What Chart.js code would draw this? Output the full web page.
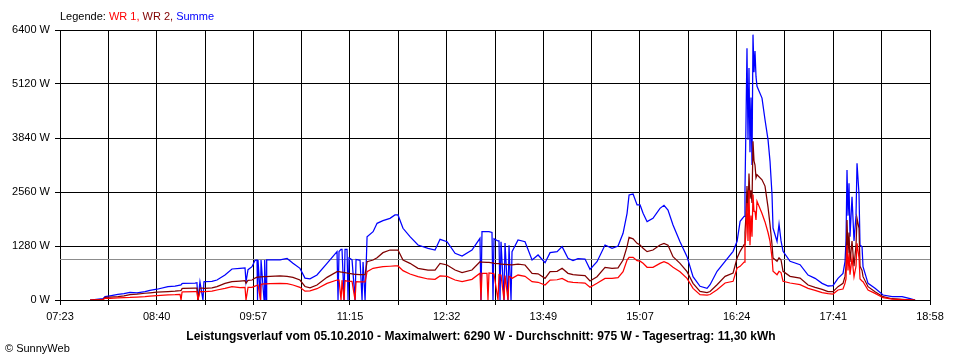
<!DOCTYPE html>
<html lang="de">

<head>
    <meta charset="UTF-8" />
    <title>Leistungsverlauf 05.10.2010</title>
    <script src="https://cdn.jsdelivr.net/npm/chart.js"></script>
    <style>
        * {
            margin: 0;
            padding: 0;
            box-sizing: border-box;
        }

        body {
            background: #ffffff;
            width: 960px;
            height: 360px;
            overflow: hidden;
        }

        canvas {
            display: block;
        }
    </style>
</head>

<body>
    <canvas id="powerChart" width="960" height="360"></canvas>

    <script>
        // Uhrzeit in Minuten seit Mitternacht
        const times = [
            467.0, 477.4, 479.0, 482.9, 489.3, 494.1, 498.9, 504.5, 510.9, 514.9,
            520.5, 529.3, 534.9, 538.9, 539.7, 540.5, 541.3, 550.9, 552.4, 553.2,
            554.8, 557.2, 558.0, 558.8, 564.4, 568.4, 574.8, 580.4, 586.8, 590.8,
            591.6, 593.2, 596.4, 598.8, 600.4, 600.8, 601.2, 603.2, 603.6, 606.0,
            606.5, 607.6, 608.1, 610.8, 618.8, 624.4, 629.1, 634.7, 638.7, 642.7,
            648.3, 656.3, 664.3, 665.1, 665.9, 667.5, 668.3, 669.9, 670.7, 672.3,
            673.1, 673.9, 676.3, 678.7, 679.5, 682.7, 684.3, 685.1, 686.7, 688.3,
            693.1, 696.3, 701.0, 706.6, 710.6, 713.0, 717.0, 722.6, 729.0, 737.0,
            742.6, 746.6, 752.2, 758.6, 764.2, 772.1, 778.5, 779.3, 780.1, 784.1,
            784.9, 785.7, 788.1, 788.9, 789.7, 792.9, 793.7, 794.5, 795.3, 797.7,
            798.5, 800.9, 801.7, 803.3, 804.1, 808.9, 814.5, 820.1, 824.9, 830.5,
            834.5, 840.1, 844.1, 848.8, 852.8, 856.8, 862.4, 866.4, 872.0, 878.4,
            884.0, 888.8, 892.8, 896.0, 897.6, 900.8, 904.0, 906.4, 908.8, 912.0,
            916.7, 922.3, 925.5, 928.7, 932.7, 938.3, 943.9, 948.7, 954.3, 959.9,
            962.3, 967.9, 974.3, 980.7, 983.9, 986.3, 989.5, 990.2, 991.0, 991.8,
            992.6, 993.4, 994.2, 995.0, 995.8, 996.6, 997.4, 998.2, 999.0, 999.8,
            1003.8, 1006.2, 1008.6, 1010.2, 1011.8, 1012.6, 1015.8, 1017.4, 1019.0, 1020.6,
            1026.2, 1034.2, 1040.6, 1046.2, 1051.8, 1056.6, 1060.5, 1064.5, 1068.5, 1070.1,
            1070.9, 1071.7, 1072.5, 1073.3, 1074.1, 1075.7, 1077.3, 1078.9, 1079.7, 1081.3,
            1082.1, 1083.7, 1084.5, 1088.5, 1094.1, 1100.5, 1107.7, 1115.7, 1122.1, 1126.1
        ];

        const summe = [
            0, 30, 80, 100, 135, 150, 180, 170, 200, 230,
            255, 315, 330, 355, 360, 390, 395, 400, 410, 0,
            430, 0, 430, 435, 440, 474, 592, 735, 750, 760,
            430, 720, 790, 940, 950, 0, 950, 0, 950, 0,
            950, 0, 950, 950, 950, 985, 870, 750, 520, 500,
            592, 870, 1145, 0, 1150, 1200, 1200, 0, 1200, 1200,
            0, 1000, 950, 0, 960, 940, 0, 900, 0, 1500,
            1619, 1817, 1880, 1935, 2015, 2015, 1700, 1501, 1304, 1225,
            1185, 1438, 1382, 1106, 1043, 1185, 1462, 0, 1619, 1619,
            1619, 1619, 1600, 0, 1450, 1400, 1400, 0, 1382, 0,
            1350, 0, 1300, 0, 1145, 1422, 1382, 948, 1067, 885,
            1122, 1146, 1264, 987, 932, 979, 970, 727, 908, 1304,
            1225, 1280, 1580, 2055, 2489, 2512, 2252, 2252, 2055, 1857,
            1935, 2173, 2244, 2133, 1778, 1382, 1027, 553, 324, 276,
            363, 680, 917, 1154, 1391, 1865, 1983, 2600, 4200, 5970,
            3800, 5500, 3500, 4800, 3200, 6290, 5400, 5900, 5300, 5064,
            4787, 4273, 3800, 3287, 2496, 1706, 1391, 1800, 1400, 1154,
            917, 837, 592, 513, 395, 332, 340, 513, 632, 908,
            1400, 3081, 2000, 2765, 1500, 2449, 1400, 2000, 3240, 2500,
            1300, 1264, 790, 395, 276, 118, 79, 79, 32, 0
        ];

        const wr2 = [
            0, 15, 60, 70, 80, 100, 130, 140, 160, 170,
            185, 200, 210, 220, 225, 270, 275, 280, 280, 0,
            280, 280, 276, 276, 290, 316, 395, 435, 450, 460,
            400, 465, 474, 520, 540, 540, 545, 550, 550, 555,
            555, 555, 555, 560, 570, 560, 537, 474, 320, 290,
            356, 537, 671, 671, 671, 660, 660, 650, 650, 640,
            630, 630, 620, 610, 610, 600, 600, 600, 600, 908,
            948, 1000, 1122, 1185, 1185, 1185, 948, 869, 751, 711,
            711, 869, 830, 711, 648, 711, 908, 900, 900, 890,
            890, 890, 880, 880, 870, 860, 860, 850, 850, 845,
            845, 840, 840, 835, 830, 850, 830, 632, 620, 513,
            671, 680, 751, 632, 600, 592, 580, 450, 553, 775,
            751, 760, 948, 1264, 1486, 1450, 1343, 1304, 1225, 1146,
            1185, 1304, 1343, 1300, 1027, 869, 671, 395, 206, 174,
            200, 363, 561, 640, 995, 1154, 1311, 1600, 2000, 2700,
            2100, 3000, 2400, 2600, 2300, 3760, 3300, 3200, 2900, 2970,
            2850, 2700, 2200, 1785, 1311, 995, 917, 1000, 950, 680,
            561, 521, 356, 300, 253, 197, 197, 316, 395, 560,
            800, 1896, 1100, 1600, 900, 1400, 800, 1300, 1935, 1700,
            800, 700, 553, 316, 197, 79, 30, 16, 5, 0
        ];

        const wr1 = [
            0, 10, 40, 40, 50, 55, 60, 70, 80, 90,
            105, 120, 125, 135, 0, 190, 195, 200, 200, 0,
            200, 200, 197, 197, 210, 237, 276, 316, 295, 300,
            0, 300, 300, 330, 350, 350, 355, 0, 370, 380,
            380, 385, 385, 390, 395, 390, 356, 300, 210, 215,
            268, 395, 474, 474, 474, 0, 470, 0, 460, 450,
            450, 445, 440, 0, 435, 430, 430, 430, 430, 671,
            751, 770, 790, 800, 806, 806, 695, 616, 553, 498,
            490, 569, 560, 474, 435, 490, 632, 0, 630, 630,
            0, 640, 630, 630, 620, 0, 600, 590, 590, 0,
            580, 0, 560, 540, 513, 592, 560, 435, 420, 356,
            474, 480, 513, 435, 420, 410, 400, 300, 395, 513,
            513, 530, 671, 948, 1012, 1012, 932, 920, 869, 775,
            775, 869, 908, 869, 775, 671, 513, 276, 126, 118,
            130, 245, 403, 443, 758, 798, 900, 1300, 1600, 2300,
            1400, 2600, 1300, 2000, 1500, 2500, 2100, 2100, 1900, 2339,
            2050, 1850, 1600, 1391, 1000, 680, 600, 680, 650, 443,
            403, 363, 276, 230, 174, 150, 140, 237, 260, 395,
            500, 1300, 700, 1100, 600, 1000, 550, 800, 1343, 1000,
            500, 450, 435, 237, 158, 55, 20, 10, 3, 0
        ];

        const yTicks = [0, 1280, 2560, 3840, 5120, 6400];
        const xLabels = ["07:23", "08:40", "09:57", "11:15", "12:32", "13:49", "15:07", "16:24", "17:41", "18:58"];
        const xStart = 443;   // 07:23
        const xEnd = 1138;    // 18:58
        const durchschnitt = 975;

        const legendParts = [
            { text: "Legende: ", color: "#000000" },
            { text: "WR 1, ", color: "#ff0000" },
            { text: "WR 2, ", color: "#800000" },
            { text: "Summe", color: "#0000ff" }
        ];
        const titleText = "Leistungsverlauf vom 05.10.2010 - Maximalwert: 6290 W - Durchschnitt: 975 W - Tagesertrag: 11,30 kWh";
        const copyText = "\u00a9 SunnyWeb";

        const FONT = '"Liberation Sans", Arial, sans-serif';

        const textPlugin = {
            id: 'textPlugin',
            beforeDatasetsDraw(chart) {
                const { ctx, chartArea, scales } = chart;
                const y = Math.round(scales.y.getPixelForValue(durchschnitt)) + 0.5;
                ctx.save();
                ctx.strokeStyle = "#8c8c8c";
                ctx.lineWidth = 1;
                ctx.beginPath();
                ctx.moveTo(chartArea.left, y);
                ctx.lineTo(chartArea.right, y);
                ctx.stroke();
                ctx.restore();
            },
            afterDraw(chart) {
                const { ctx, chartArea } = chart;
                ctx.save();
                ctx.font = "11px " + FONT;
                ctx.textBaseline = "middle";
                ctx.textAlign = "left";
                let x = chartArea.left;
                legendParts.forEach(p => {
                    ctx.fillStyle = p.color;
                    ctx.fillText(p.text, x, 17);
                    x += ctx.measureText(p.text).width;
                });

                ctx.fillStyle = "#000000";
                ctx.font = "bold 12px " + FONT;
                ctx.textAlign = "center";
                ctx.fillText(titleText, 481, 337);

                ctx.font = "11px " + FONT;
                ctx.textAlign = "left";
                ctx.fillText(copyText, 5, 349);
                ctx.restore();
            }
        };

        const toPoints = (values) => times.map((t, i) => ({ x: t, y: values[i] }));

        const ctx = document.getElementById("powerChart").getContext("2d");
        const powerChart = new Chart(ctx, {
            type: "line",
            data: {
                datasets: [
                    { label: "WR 1", data: toPoints(wr1), borderColor: "#ff0000" },
                    { label: "WR 2", data: toPoints(wr2), borderColor: "#800000" },
                    { label: "Summe", data: toPoints(summe), borderColor: "#0000ff" }
                ]
            },
            options: {
                responsive: false,
                animation: false,
                layout: {
                    padding: { top: 30, right: 30, bottom: 36, left: 0 }
                },
                elements: {
                    point: { radius: 0 },
                    line: { borderWidth: 1.25, tension: 0, fill: false }
                },
                scales: {
                    x: {
                        type: "linear",
                        min: xStart,
                        max: xEnd,
                        afterBuildTicks: (scale) => {
                            scale.ticks = Array.from({ length: 19 }, (_, i) => ({ value: xStart + i * (xEnd - xStart) / 18 }));
                        },
                        afterFit: (scale) => { scale.height = 24; },
                        ticks: {
                            autoSkip: false,
                            maxRotation: 0,
                            color: "#000000",
                            padding: 5,
                            font: { size: 11, family: FONT },
                            callback: (value, index) => index % 2 === 0 ? xLabels[index / 2] : ""
                        },
                        grid: { color: "#000000", lineWidth: 1, tickLength: 5 },
                        border: { color: "#000000" }
                    },
                    y: {
                        min: 0,
                        max: 6400,
                        afterBuildTicks: (scale) => {
                            scale.ticks = yTicks.map(v => ({ value: v }));
                        },
                        afterFit: (scale) => { scale.width = 60; },
                        ticks: {
                            color: "#000000",
                            padding: 5,
                            font: { size: 11, family: FONT },
                            callback: (value) => value + " W"
                        },
                        grid: { color: "#000000", lineWidth: 1, tickLength: 5 },
                        border: { color: "#000000" }
                    }
                },
                plugins: {
                    legend: { display: false },
                    tooltip: { enabled: false },
                    title: { display: false }
                }
            },
            plugins: [textPlugin]
        });
    </script>

</body>

</html>
